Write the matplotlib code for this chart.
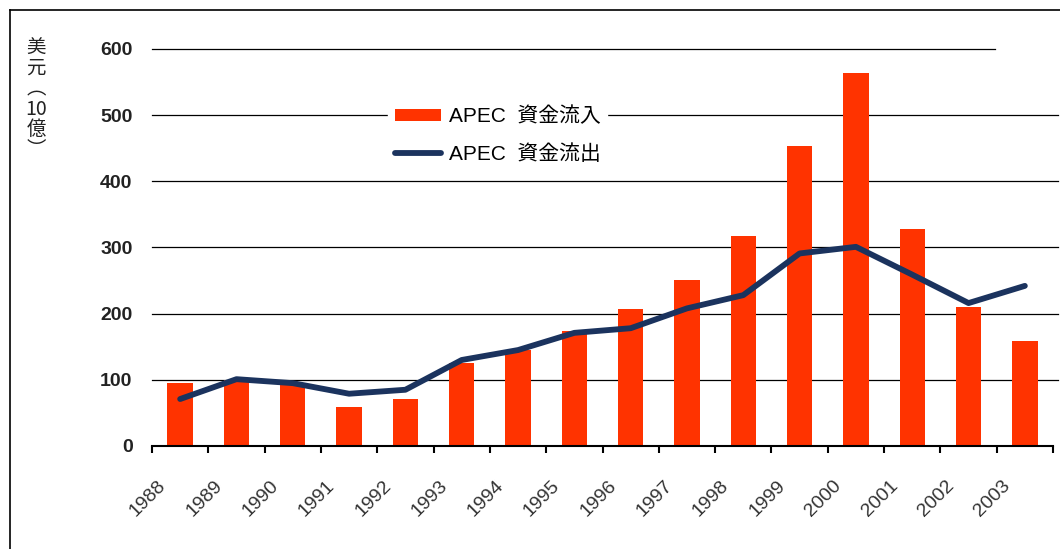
import numpy as np
import matplotlib
matplotlib.use("Agg")
import matplotlib.pyplot as plt
import matplotlib.transforms as mtransforms
from matplotlib.lines import Line2D

plt.rcParams['font.family'] = ['Liberation Sans', 'Noto Sans CJK JP', 'DejaVu Sans']

years = ['1988', '1989', '1990', '1991', '1992', '1993', '1994', '1995',
         '1996', '1997', '1998', '1999', '2000', '2001', '2002', '2003']
inflow = [95, 100, 93, 59, 71, 125, 145, 174, 207, 251, 317, 453, 563, 328, 210, 159]
outflow = [71, 101, 95, 79, 85, 130, 145, 171, 178, 208, 228, 291, 301, 259, 216, 242]
yticks = [0, 100, 200, 300, 400, 500, 600]

bar_color = '#ff3300'
line_color = '#1b335e'

fig = plt.figure(figsize=(10.6, 5.49), dpi=100)
ax = fig.add_axes([152 / 1060, 1 - 446 / 549, (1053 - 152) / 1060, (446 - 49) / 549])

x = np.arange(len(years))
bars = ax.bar(x, inflow, width=0.45, color=bar_color, zorder=2, label='APEC  資金流入')
line, = ax.plot(x, outflow, color=line_color, lw=4.2, solid_joinstyle='round',
                solid_capstyle='round', zorder=3, label='APEC  資金流出')

# horizontal grid lines
for v in yticks[1:]:
    xmax = 0.936 if v == 600 else 1.006
    ax.axhline(v, xmin=0, xmax=xmax, color='black', lw=0.9, zorder=1, clip_on=False)

ax.set_xlim(-0.5, len(years) - 0.5)
ax.set_ylim(0, 600)
ax.set_yticks(yticks)
ax.set_yticklabels([str(v) for v in yticks], fontsize=14, fontweight='bold', color='#222222')
ax.tick_params(axis='y', length=0, pad=14)

ax.set_xticks(x)
ax.set_xticklabels(years, fontsize=14, color='#333333', rotation=45,
                   ha='right', va='center', rotation_mode='anchor')
ax.set_xticks(np.arange(-0.5, len(years), 1), minor=True)
ax.tick_params(axis='x', which='major', length=0, pad=27)
ax.tick_params(axis='x', which='minor', length=5, width=1.5, direction='out', color='black')
shift = mtransforms.ScaledTranslation(-17 / 100, 0, fig.dpi_scale_trans)
for lab in ax.get_xticklabels():
    lab.set_transform(lab.get_transform() + shift)

for s in ['left', 'right', 'top']:
    ax.spines[s].set_visible(False)
ax.spines['bottom'].set_linewidth(1.5)

fig.text(0.034, 1 - 38 / 549, '美\n元\n︵\n10\n億\n︶', fontsize=14, ha='center', va='top',
         linespacing=0.95, family=['Noto Sans CJK JP', 'DejaVu Sans'], color='#222222')

leg = ax.legend(handles=[bars, line], loc='upper left', bbox_to_anchor=(378 / 1060, 1 - 90 / 549),
                bbox_transform=fig.transFigure, frameon=True, fancybox=False,
                edgecolor='white', facecolor='white', framealpha=1,
                fontsize=15, handlelength=2.2, handleheight=0.55,
                handletextpad=0.4, labelspacing=0.85, borderpad=0.3)
leg.set_zorder(4)

# figure frame on left and top
fig.add_artist(Line2D([10 / 1060, 10 / 1060], [0, 1 - 10 / 549], color='black', lw=1.2,
                      transform=fig.transFigure))
fig.add_artist(Line2D([10 / 1060, 1], [1 - 10 / 549, 1 - 10 / 549], color='black', lw=1.2,
                      transform=fig.transFigure))

fig.savefig('out.png', dpi=100)
